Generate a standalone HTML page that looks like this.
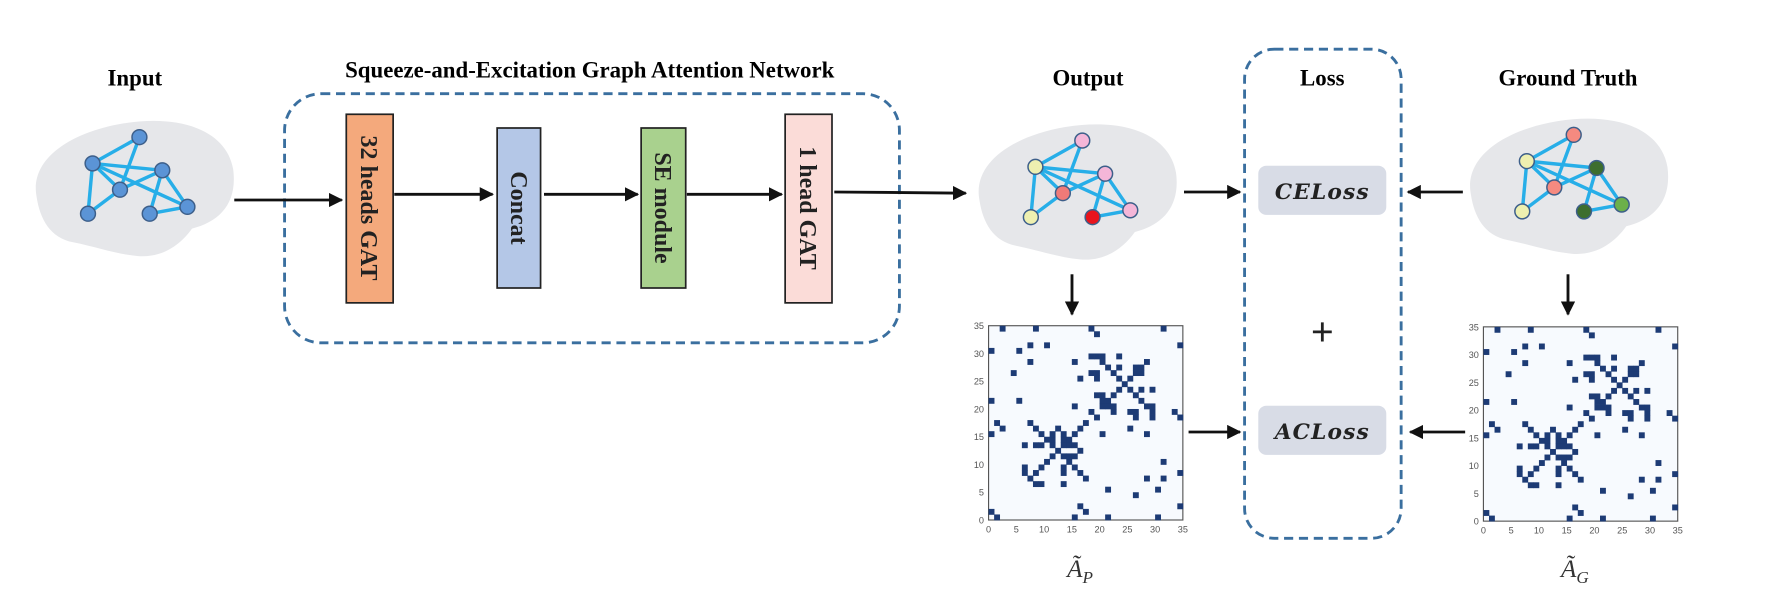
<!DOCTYPE html>
<html><head><meta charset="utf-8"><style>
html,body{margin:0;padding:0;background:#fff;}
svg{display:block;}
.t{font-family:"Liberation Serif",serif;font-weight:bold;}
</style></head><body>
<svg id="s" width="1792" height="608" viewBox="0 0 1568 532" preserveAspectRatio="none" xmlns="http://www.w3.org/2000/svg">
<defs>
<marker id="ar" viewBox="0 0 10 10" refX="9" refY="5" markerWidth="5" markerHeight="5" orient="auto"><path d="M0,0 L10,5 L0,10 z" fill="#111"/></marker>
<g id="brain">
<path d="M32,172 C26,140 60,116 108,108 C158,100 198,114 204,148 C208,178 192,194 168,200 C158,214 142,226 120,224 C100,222 84,216 64,212 C44,208 35,192 32,172 z" fill="#e6e7ea"/>
</g>
</defs>
<rect width="1568" height="532" fill="#fff"/>
<text class="t" x="118" y="75" font-size="20" text-anchor="middle">Input</text>
<text class="t" x="516" y="68" font-size="20" text-anchor="middle">Squeeze-and-Excitation Graph Attention Network</text>
<text class="t" x="952" y="75" font-size="20" text-anchor="middle">Output</text>
<text class="t" x="1157" y="75" font-size="20" text-anchor="middle">Loss</text>
<text class="t" x="1372" y="75" font-size="20" text-anchor="middle">Ground Truth</text>

<rect x="249" y="82" width="538" height="218" rx="32" fill="none" stroke="#3a6f9f" stroke-width="2.5" stroke-dasharray="8,5"/>
<rect x="1089" y="43" width="137" height="428" rx="26" fill="none" stroke="#3a6f9f" stroke-width="2.5" stroke-dasharray="8,5"/>

<g stroke="#222" stroke-width="1.5">
<rect x="303" y="100" width="41" height="165" fill="#f4a97c"/>
<rect x="435" y="112" width="38" height="140" fill="#b4c7e7"/>
<rect x="561" y="112" width="39" height="140" fill="#a9d18e"/>
<rect x="687" y="100" width="41" height="165" fill="#fbdcd8"/>
</g>
<g class="t" font-size="21" fill="#222" text-anchor="middle">
<text transform="translate(316,182) rotate(90)">32 heads GAT</text>
<text transform="translate(447,182) rotate(90)">Concat</text>
<text transform="translate(573,182) rotate(90)">SE module</text>
<text transform="translate(700,182) rotate(90)">1 head GAT</text>
</g>

<g stroke="#111" stroke-width="2.5" marker-end="url(#ar)">
<line x1="205" y1="175" x2="299" y2="175"/>
<line x1="345" y1="170" x2="431" y2="170"/>
<line x1="476" y1="170" x2="558" y2="170"/>
<line x1="601" y1="170" x2="684" y2="170"/>
<line x1="730" y1="168" x2="845" y2="169"/>
<line x1="1036" y1="168" x2="1085" y2="168"/>
<line x1="1280" y1="168" x2="1232" y2="168"/>
<line x1="1040" y1="378" x2="1085" y2="378"/>
<line x1="1282" y1="378" x2="1234" y2="378"/>
<line x1="938" y1="240" x2="938" y2="275"/>
<line x1="1372" y1="240" x2="1372" y2="275"/>
</g>

<use href="#brain"/>
<g transform="translate(825,3)"><use href="#brain"/></g>
<g transform="translate(1255,-2)"><use href="#brain"/></g>
<g id="nets"></g>

<rect x="1101" y="145" width="112" height="43" rx="7" fill="#d8dce6"/>
<rect x="1101" y="355" width="112" height="43" rx="7" fill="#d8dce6"/>
<text x="1157" y="174" font-family="'DejaVu Serif','Liberation Serif',serif" font-style="italic" font-weight="bold" font-size="19" text-anchor="middle" fill="#222" letter-spacing="1">CELoss</text>
<text x="1157" y="384" font-family="'DejaVu Serif','Liberation Serif',serif" font-style="italic" font-weight="bold" font-size="19" text-anchor="middle" fill="#222" letter-spacing="1">ACLoss</text>
<text x="1157" y="302" font-family="'Liberation Sans',sans-serif" font-size="34" text-anchor="middle" fill="#222">+</text>

<g id="mats"></g>
<text x="945" y="505" font-family="'Liberation Serif',serif" font-style="italic" font-size="22" text-anchor="middle" fill="#333">Ã<tspan font-size="15" dy="5">P</tspan></text>
<text x="1378" y="505" font-family="'Liberation Serif',serif" font-style="italic" font-size="22" text-anchor="middle" fill="#333">Ã<tspan font-size="15" dy="5">G</tspan></text>
</svg>
<script>
var NS="http://www.w3.org/2000/svg";
function el(p,t,a){var e=document.createElementNS(NS,t);for(var k in a)e.setAttribute(k,a[k]);p.appendChild(e);return e;}
var nets=document.getElementById("nets");
var nodes=[[122,120],[81,143],[142,149],[105,166],[77,187],[131,187],[164,181]];
var edges=[[0,1],[0,3],[1,2],[1,4],[1,6],[1,3],[2,3],[2,5],[2,6],[5,6],[3,4]];
function net(dx,dy,cols){
 var g=el(nets,"g",{transform:"translate("+dx+","+dy+")"});
 edges.forEach(function(e){el(g,"line",{x1:nodes[e[0]][0],y1:nodes[e[0]][1],x2:nodes[e[1]][0],y2:nodes[e[1]][1],stroke:"#27aee8","stroke-width":3});});
 nodes.forEach(function(n,i){el(g,"circle",{cx:n[0],cy:n[1],r:6.5,fill:cols[i],stroke:"#3d5f8a","stroke-width":1.3});});
}
var b="#5b94d6";
net(0,0,[b,b,b,b,b,b,b]);
net(825,3,["#f4b6d8","#eef0b0","#f4b6d8","#f07a78","#eef0b0","#e8141c","#f4b6d8"]);
net(1255,-2,["#f58a80","#eef0b0","#3d6e2e","#f58a80","#eef0b0","#3d6e2e","#6cb04a"]);

var mats=document.getElementById("mats");
var seed=7;function rnd(){seed=(seed*16807)%2147483647;return seed/2147483647;}
var M=[];for(var i=0;i<35;i++){M.push(new Array(35).fill(0));}
function set(i,j){if(i>=0&&j>=0&&i<35&&j<35){M[i][j]=1;M[j][i]=1;}}
for(var k=-5;k<=5;k++){set(12+k,12-k);set(12+k,13+k>34?34:12+k);}
for(var k=-4;k<=4;k++){set(24+k,24-k);set(24+k,24+k);}
for(var i=0;i<35;i++)for(var j=0;j<i;j++){
 var p=0.05;
 if(i>=5&&i<=17&&j>=5&&j<=17)p=0.2;
 if(i>=18&&i<=30&&j>=18&&j<=30)p=0.15;
 if(rnd()<p)set(i,j);
}
function mat(x0,y0){
 var g=el(mats,"g",{});
 var W=170,c=W/35;
 el(g,"rect",{x:x0,y:y0,width:W,height:W,fill:"#f7fafe",stroke:"#555","stroke-width":1});
 for(var i=0;i<35;i++)for(var j=0;j<35;j++)if(M[i][j])
  el(g,"rect",{x:x0+j*c,y:y0+W-(i+1)*c,width:c+0.3,height:c+0.3,fill:"#1d3b75"});
 for(var t=0;t<=35;t+=5){
  var tx=el(g,"text",{x:x0+t*c,y:y0+W+11,"font-size":8,"text-anchor":"middle",fill:"#555","font-family":"Liberation Sans,sans-serif"});tx.textContent=t;
  var ty=el(g,"text",{x:x0-4,y:y0+W-t*c+3,"font-size":8,"text-anchor":"end",fill:"#555","font-family":"Liberation Sans,sans-serif"});ty.textContent=t;
 }
}
mat(865,285);mat(1298,286);
</script>
</body></html>
